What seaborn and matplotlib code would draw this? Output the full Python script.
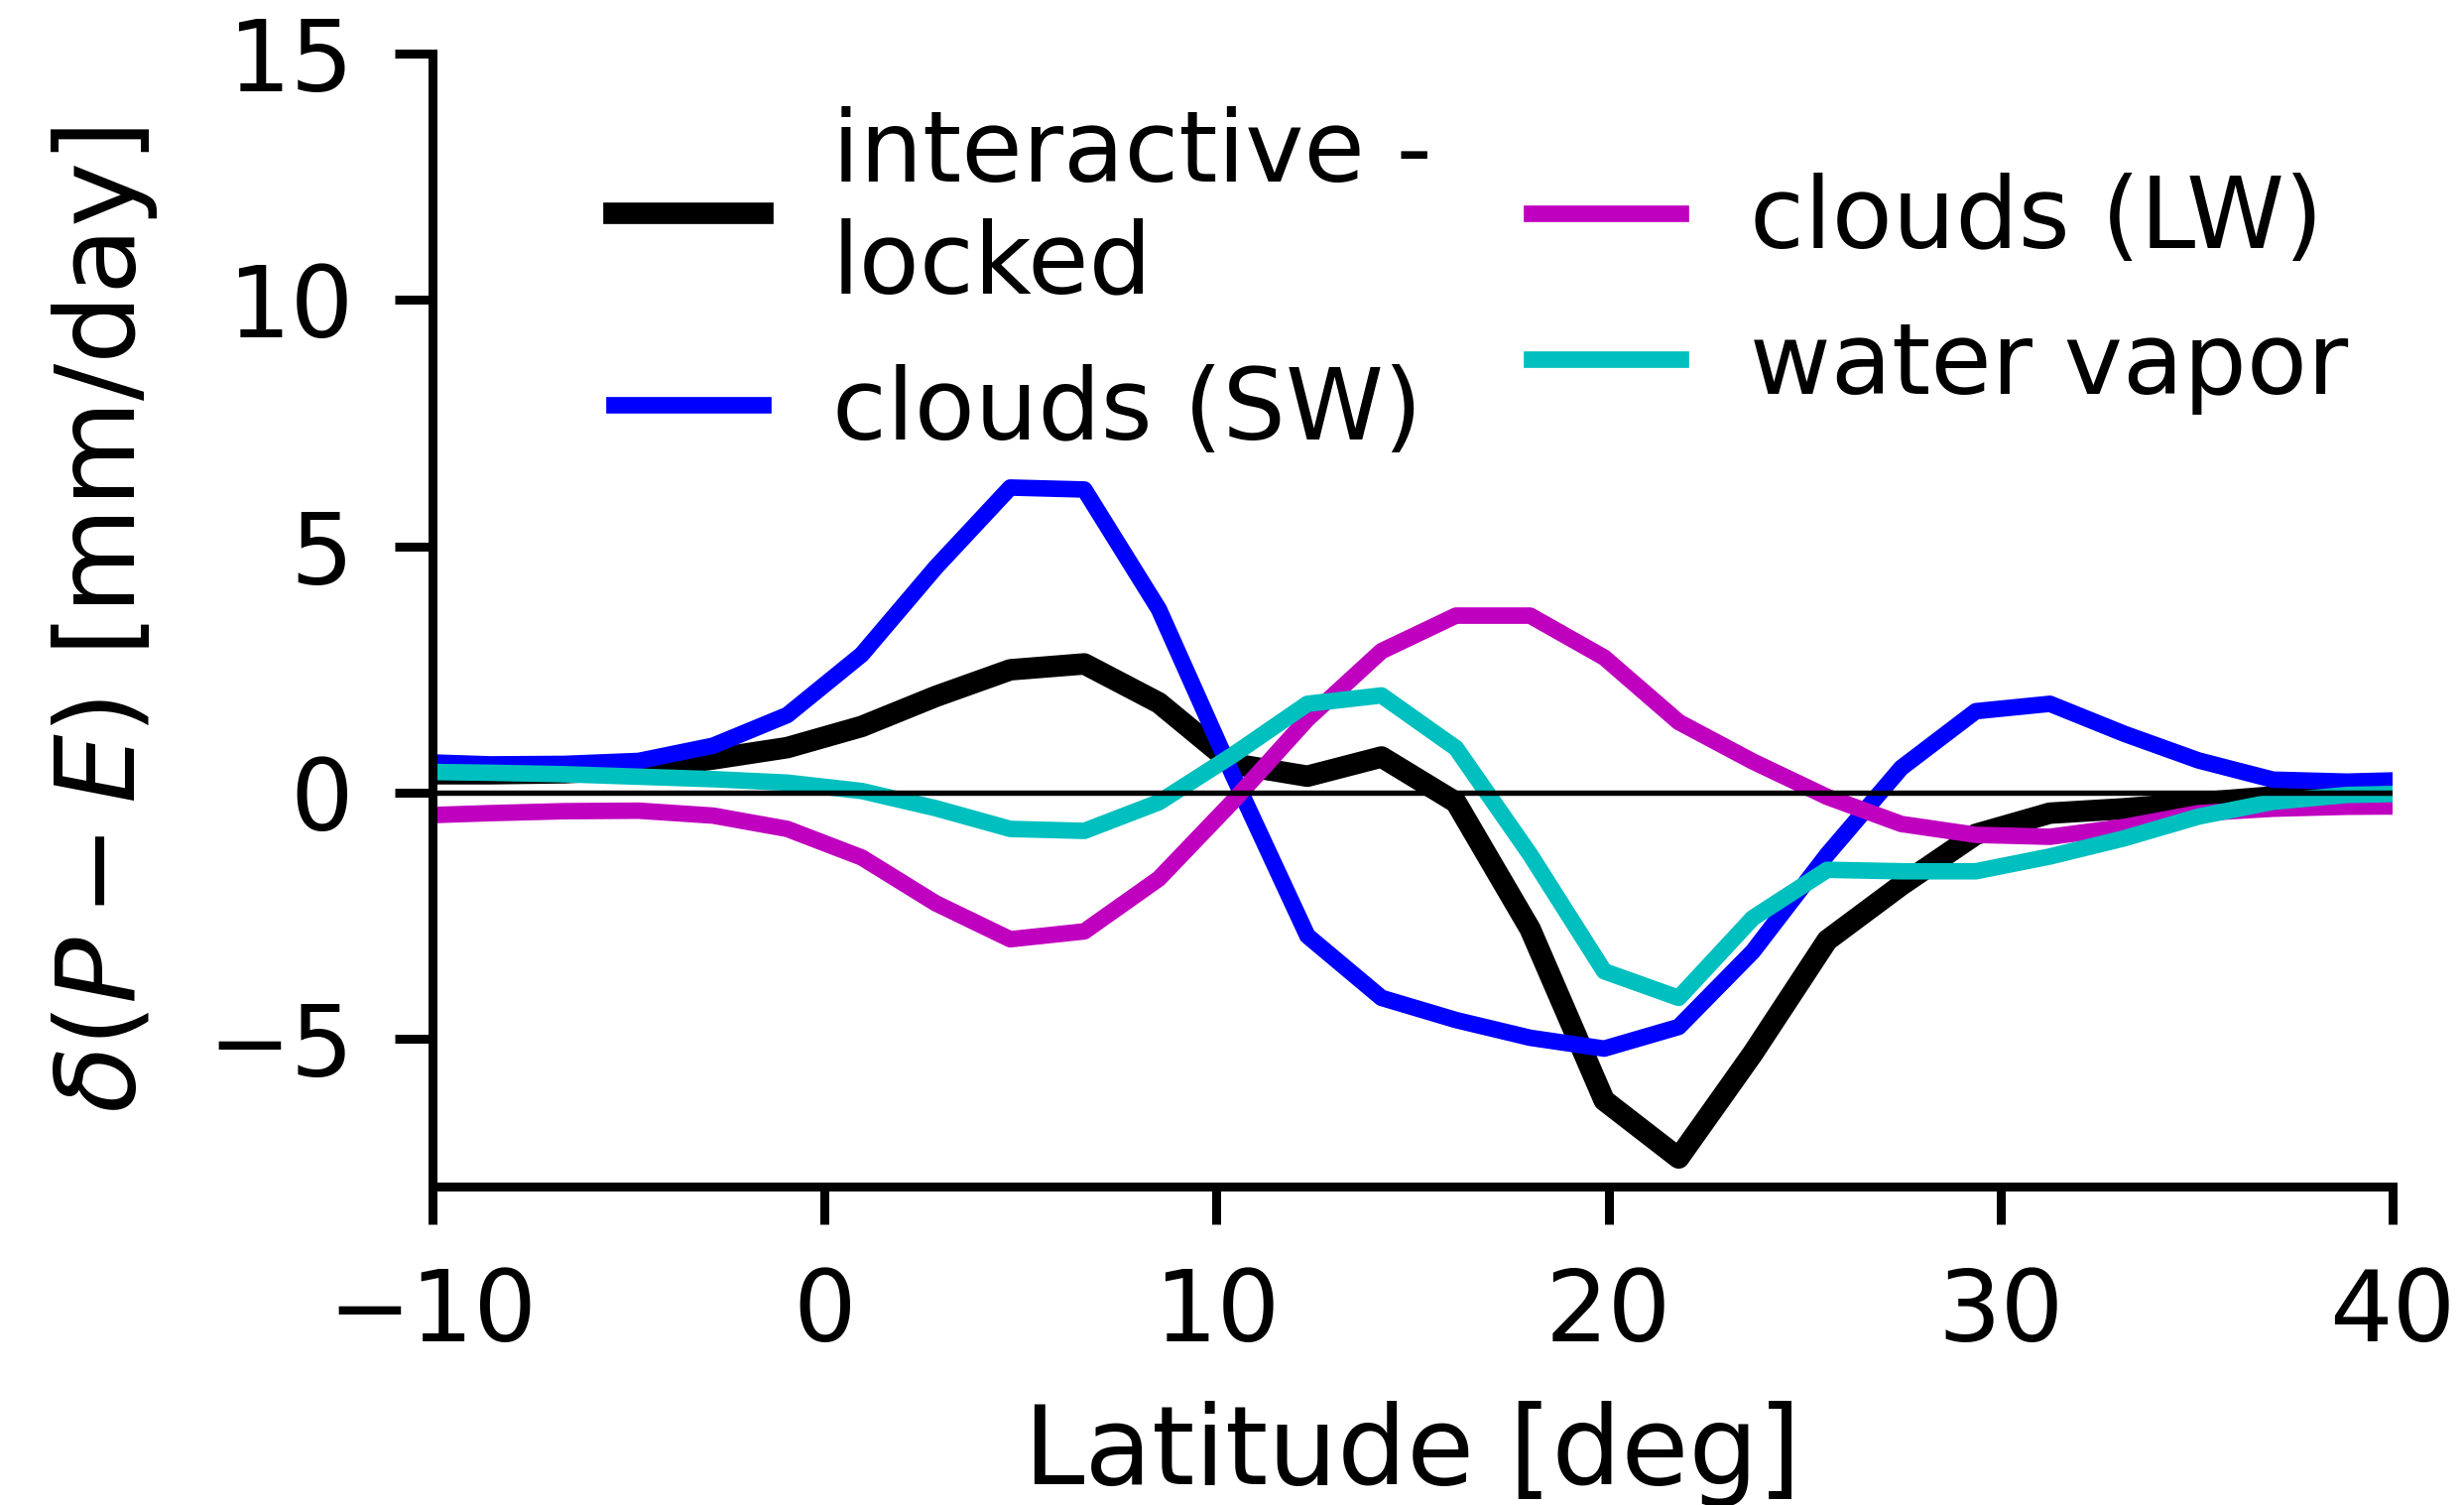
import numpy as np
import pandas as pd
import matplotlib
matplotlib.use('Agg')
import matplotlib.pyplot as plt
import seaborn as sns

# latitude grid (deg) and P-E change for each component (mm/day)
lat = [-10.42, -8.53, -6.63, -4.74, -2.84, -0.95, 0.95, 2.84, 4.74, 6.63,
       8.53, 10.42, 12.32, 14.21, 16.11, 18.00, 19.89, 21.79, 23.68, 25.58,
       27.47, 29.37, 31.26, 33.16, 35.05, 36.95, 38.84, 40.74]
total = [0.38, 0.38, 0.40, 0.48, 0.68, 0.91, 1.34, 1.95, 2.49, 2.61,
         1.82, 0.58, 0.33, 0.72, -0.20, -2.77, -6.25, -7.42, -5.30, -3.00,
         -1.88, -0.85, -0.42, -0.33, -0.21, -0.09, -0.02, 0.0]
sw = [0.62, 0.57, 0.58, 0.64, 0.95, 1.57, 2.80, 4.57, 6.19, 6.15,
      3.72, 0.35, -2.91, -4.17, -4.62, -4.98, -5.20, -4.76, -3.23, -1.26,
      0.50, 1.65, 1.80, 1.19, 0.65, 0.26, 0.22, 0.26]
lw_cl = [-0.47, -0.42, -0.38, -0.37, -0.47, -0.74, -1.32, -2.25, -2.98, -2.82,
         -1.75, -0.18, 1.49, 2.87, 3.59, 3.59, 2.74, 1.43, 0.63, -0.09,
         -0.64, -0.86, -0.90, -0.70, -0.42, -0.33, -0.29, -0.28]
wv = [0.42, 0.40, 0.37, 0.32, 0.27, 0.20, 0.03, -0.32, -0.74, -0.78,
      -0.20, 0.76, 1.80, 1.97, 0.90, -1.26, -3.63, -4.17, -2.55, -1.57,
      -1.60, -1.60, -1.30, -0.93, -0.49, -0.19, -0.05, -0.02]

labels = ['interactive -\nlocked', 'clouds (SW)', 'clouds (LW)', 'water vapor']
colors = ['k', 'b', 'm', 'c']
widths = [5.2, 4.0, 4.0, 4.0]

df = pd.DataFrame({'lat': lat, 'total': total, 'sw': sw, 'lw': lw_cl, 'wv': wv})

sns.set_style('ticks')
plt.rcParams['font.family'] = ['DejaVu Sans']
plt.rcParams['mathtext.fontset'] = 'dejavusans'
plt.rcParams.update({'text.color': 'k', 'axes.labelcolor': 'k',
                     'xtick.color': 'k', 'ytick.color': 'k',
                     'axes.edgecolor': 'k',
                     'lines.solid_capstyle': 'projecting'})

fig, ax = plt.subplots(figsize=(8.28, 5.0567), dpi=300)
fig.subplots_adjust(left=0.1755, right=0.971, top=0.9644, bottom=0.2116)

for col, c, w, lab in zip(['total', 'sw', 'lw', 'wv'], colors, widths, labels):
    sns.lineplot(data=df, x='lat', y=col, color=c, lw=w, label=lab, ax=ax)

ax.axhline(0, color='k', lw=1.3, zorder=3)

ax.set_xlim(-10, 40)
ax.set_ylim(-8, 15)
ax.set_xticks([-10, 0, 10, 20, 30, 40])
ax.set_yticks([-5, 0, 5, 10, 15])
ax.tick_params(width=2.16, length=9.1, pad=10, labelsize=24, direction='out')
for s in ['left', 'bottom']:
    ax.spines[s].set_linewidth(2.16)
sns.despine(ax=ax)

ax.set_xlabel('Latitude [deg]', fontsize=26.5, labelpad=9.5)
ax.set_ylabel(r'$\delta(P-E)$ [mm/day]', fontsize=26.5, labelpad=11.5)

ax.legend(ncol=2, frameon=False, fontsize=24, handlelength=1.5,
          handletextpad=0.7, columnspacing=1.0, labelspacing=0.5,
          loc='upper left', bbox_to_anchor=(0.047, 1.032))

fig.savefig('out.png', dpi=300)
